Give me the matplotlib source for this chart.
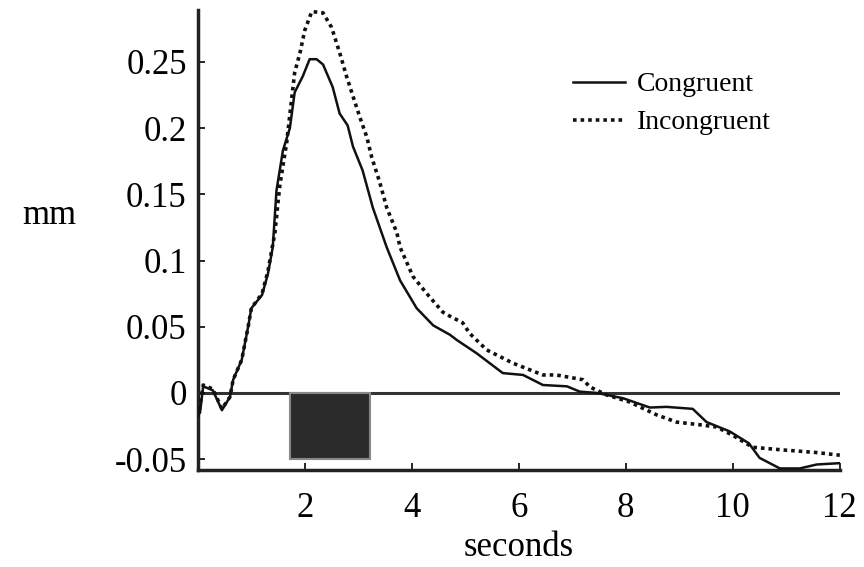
import matplotlib.pyplot as plt
from matplotlib.patches import Rectangle
import numpy as np

# values
cong_x = [0.0, 0.04, 0.1, 0.28, 0.45, 0.6, 0.66, 0.82, 0.94, 1.0, 1.2, 1.31, 1.4, 1.47, 1.59,
          1.72, 1.81, 1.96, 2.09, 2.22, 2.34, 2.52, 2.65, 2.8, 2.9, 3.08, 3.27, 3.53, 3.78,
          4.09, 4.4, 4.71, 4.84, 5.21, 5.7, 6.08, 6.45, 6.9, 7.14, 7.46, 7.95, 8.45, 8.76,
          9.25, 9.51, 9.94, 10.3, 10.5, 10.88, 11.25, 11.57, 12.0]
cong_y = [-0.012, -0.015, 0.005, 0.002, -0.013, -0.003, 0.01, 0.025, 0.05, 0.064, 0.074,
          0.09, 0.11, 0.153, 0.183, 0.2, 0.227, 0.239, 0.252, 0.252, 0.248, 0.231, 0.211,
          0.202, 0.186, 0.168, 0.14, 0.11, 0.085, 0.064, 0.051, 0.044, 0.04, 0.03, 0.015,
          0.0136, 0.006, 0.005, 0.001, 0.0, -0.004, -0.011, -0.0105, -0.012, -0.022, -0.029,
          -0.038, -0.049, -0.057, -0.057, -0.054, -0.053]

incong_x = [0.0, 0.04, 0.1, 0.28, 0.45, 0.6, 0.66, 0.82, 0.94, 1.0, 1.2, 1.31, 1.44, 1.53,
            1.66, 1.75, 1.81, 1.91, 2.0, 2.13, 2.34, 2.5, 2.65, 2.78, 2.9, 3.03, 3.16, 3.25,
            3.4, 3.53, 3.72, 3.78, 4.02, 4.28, 4.58, 4.71, 4.95, 5.08, 5.4, 5.89, 6.45, 6.7,
            7.2, 7.33, 7.64, 8.07, 8.58, 8.95, 9.38, 9.7, 10.0, 10.37, 10.93, 11.57, 12.0]
incong_y = [-0.018, -0.01, 0.006, 0.003, -0.012, -0.003, 0.01, 0.025, 0.05, 0.064, 0.075,
            0.092, 0.121, 0.156, 0.189, 0.221, 0.242, 0.257, 0.274, 0.288, 0.287, 0.276,
            0.257, 0.239, 0.224, 0.208, 0.193, 0.178, 0.159, 0.14, 0.121, 0.11, 0.088,
            0.075, 0.061, 0.058, 0.053, 0.045, 0.0325, 0.0225, 0.0136, 0.0136, 0.01, 0.0045,
            -0.0015, -0.0068, -0.0166, -0.022, -0.024, -0.0257, -0.032, -0.041, -0.043,
            -0.045, -0.047]

stim_start, stim_end = 1.72, 3.21
yticks = [-0.05, 0, 0.05, 0.1, 0.15, 0.2, 0.25]
ytick_labels = ['-0.05', '0', '0.05', '0.1', '0.15', '0.2', '0.25']
xticks = [2, 4, 6, 8, 10, 12]

plt.rcParams['font.family'] = ['Liberation Serif', 'DejaVu Serif']

fig = plt.figure(figsize=(8.64, 5.67), dpi=100)
ax = fig.add_axes([0.229, 0.171, 0.743, 0.811])

# stimulus block and zero line
ax.add_patch(Rectangle((stim_start, -0.05), stim_end - stim_start, 0.05,
                       facecolor='#2b2b2b', edgecolor='#888888', lw=1.5, zorder=2))
ax.plot([0, 12], [0, 0], color='#333333', lw=2.2, zorder=1)

ax.plot(cong_x, cong_y, color='#111111', lw=1.8, label='Congruent', zorder=3)
ax.plot(incong_x, incong_y, color='#111111', lw=2.6, ls=(0, (1, 1.1)),
        label='Incongruent', zorder=3)

ax.set_xlim(0, 12)
ax.set_ylim(-0.0582, 0.289)
ax.set_xticks(xticks)
ax.set_yticks(yticks)
ax.set_yticklabels(ytick_labels)
ax.tick_params(direction='in', length=5, width=1.2, labelsize=25)
ax.tick_params(axis='x', pad=16)
ax.tick_params(axis='y', pad=8)

for s in ['top', 'right']:
    ax.spines[s].set_visible(False)
ax.spines['left'].set_linewidth(2.5)
ax.spines['bottom'].set_linewidth(2.5)
ax.spines['left'].set_color('#222222')
ax.spines['bottom'].set_color('#222222')

ax.set_xlabel('seconds', fontsize=25, labelpad=4)
fig.text(0.057, 0.62, 'mm', fontsize=25, ha='center', va='center')

leg = ax.legend(loc='upper left', bbox_to_anchor=(0.545, 0.92), frameon=False,
                fontsize=20, handlelength=1.9, handletextpad=0.4, labelspacing=0.45)

fig.savefig('out.png', dpi=100)
